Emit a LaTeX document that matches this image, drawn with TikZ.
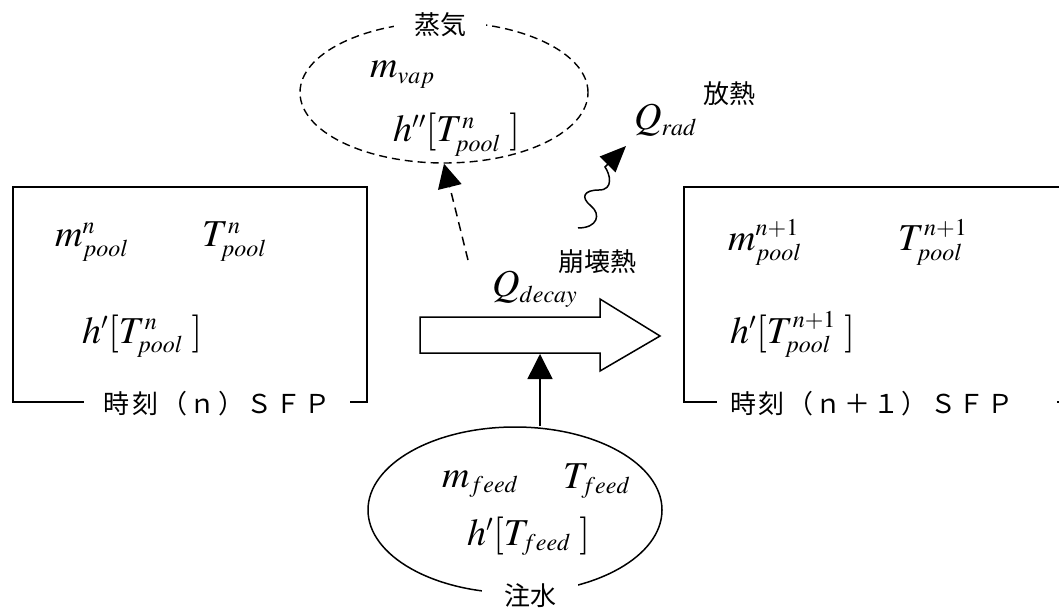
\documentclass[tikz,border=0pt]{standalone}
\usepackage{mathptmx}
\usepackage[no-math]{fontspec}
\setmainfont{Liberation Serif}
\newfontfamily\jpfont{Noto Sans CJK JP}
\newfontfamily\jplblfont[LetterSpace=10]{Noto Sans CJK JP}
\usetikzlibrary{arrows.meta,shapes.geometric}
\DeclareMathSizes{38}{38}{24}{18}
\begin{document}
\begin{tikzpicture}[x=1pt,y=-1pt,
  mtx/.style={font=\fontsize{38}{44}\selectfont, inner sep=0pt, anchor=base west},
  jp/.style={font=\jpfont\fontsize{26}{30}\selectfont, inner sep=0pt},
  jplbl/.style={font=\jplblfont\fontsize{26}{30}\selectfont, fill=white, inner ysep=3pt},
  box/.style={draw, line width=1.6pt},
  conn/.style={line width=1.5pt}]
\useasboundingbox (0,0) rectangle (1059,609);
\clip (0,0) rectangle (1059,609);

% left SFP box
\draw[box] (13,187) rectangle (367,402);
\node[jplbl, inner xsep=20pt] (lbl1) at (217,404) {時刻（ｎ）ＳＦＰ};
\node[mtx] (m1) at (55,247) {$m^{n}_{pool}$};
\node[mtx] (t1) at (202,247) {$T^{n}_{pool}$};
\node[mtx] (h1) at (82,343) {$h'[T^{n}_{pool}\;]$};

% right SFP box
\draw[box] (684,187) rectangle (1080,402);
\node[jplbl, anchor=west, inner xsep=13pt, text width=314pt, align=left] (lbl2) at (717,404) {時刻（ｎ＋１）ＳＦＰ};
\node[mtx] (m2) at (728,251) {$m^{n+1}_{pool}$};
\node[mtx] (t2) at (898,251) {$T^{n+1}_{pool}$};
\node[mtx] (h2) at (730,343) {$h'[T^{n+1}_{pool}\;]$};

% decay heat arrow
\draw[line width=1.5pt, fill=white] (420,317) -- (600,317) -- (600,299) -- (660,336) -- (600,371) -- (600,353) -- (420,353) -- cycle;
\coordinate (arrowbot) at (540,354);
\node[mtx] (qd) at (492,297) {$Q_{decay}$};
\node[jp] (decay) at (597,262) {崩壊熱};

% vapour
\node[draw, dashed, dash pattern=on 8pt off 5pt, line width=1.4pt, ellipse, minimum width=288pt, minimum height=141pt, inner sep=0pt] (vap) at (444,92.5) {};
\node[jp, fill=white, inner xsep=20pt, inner ysep=2pt] (vaplbl) at (440,25) {蒸気};
\node[mtx] (mv) at (370,78) {$m_{vap}$};
\node[mtx] (hv) at (393,142) {$h''[T^{n}_{pool}\;]$};
\coordinate (dstart) at (468,260);
\draw[conn, dash pattern=on 9pt off 6pt, -{Triangle[length=24pt,width=24pt]}] (dstart) -- (vap.south);

% radiation
\node[mtx] (qr) at (634,130) {$Q_{rad}$};
\node[jp] (rad) at (729,94) {放熱};
\draw[conn, -{Triangle[length=26pt,width=22pt]}] (578,228) .. controls (598,228) and (601,214) .. (591,206) .. controls (580,197) and (584,190) .. (599,190) .. controls (614,190) and (610,174) .. (605,167) -- (626,146);

% feed water
\node[draw, line width=1.5pt, ellipse, minimum width=294pt, minimum height=166pt, inner sep=0pt] (feed) at (515,510) {};
\node[jp, fill=white, inner xsep=22pt, inner ysep=2pt] (feedlbl) at (530,596) {注水};
\node[mtx] (mf) at (442,487) {$m_{feed}$};
\node[mtx] (tf) at (563,488) {$T_{feed}$};
\node[mtx] (hf) at (467,545) {$h'[T_{feed}\;]$};
\draw[conn, -{Triangle[length=25pt,width=25pt]}] (feed.north -| arrowbot) -- (arrowbot);
\end{tikzpicture}
\end{document}
